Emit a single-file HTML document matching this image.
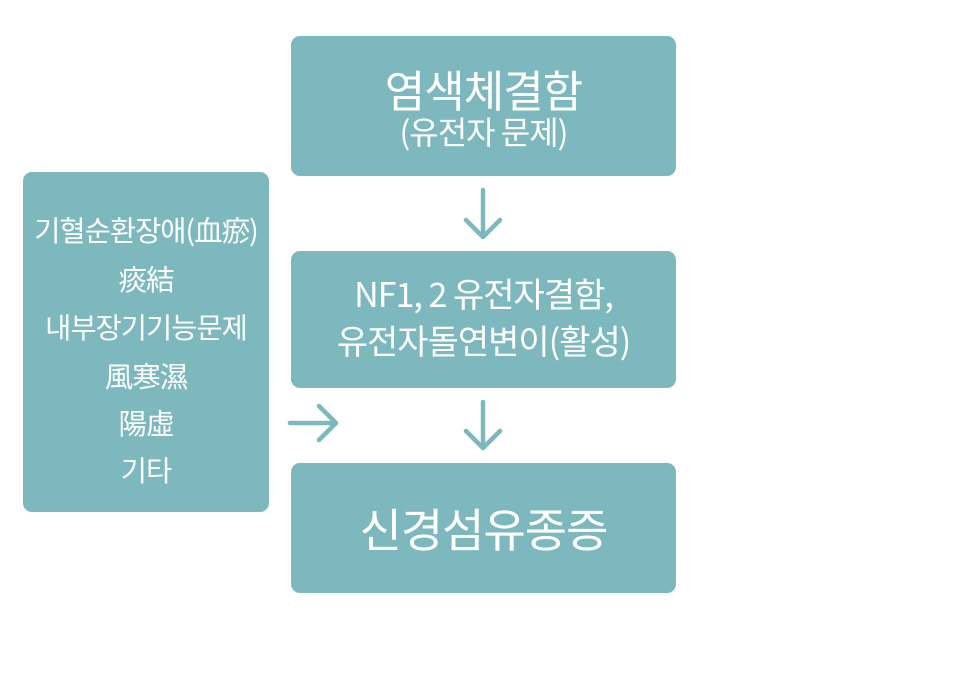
<!DOCTYPE html>
<html><head><meta charset="utf-8"><style>
body{margin:0;width:954px;height:686px;background:#fff;position:relative;font-family:"Liberation Sans","Noto Sans CJK KR",sans-serif;color:#fff;overflow:hidden}
.b{position:absolute;background:#7db8be;border-radius:9px}
.t{position:absolute;left:-20px;right:-20px;text-align:center;white-space:nowrap;font-family:"Noto Sans CJK KR",sans-serif;letter-spacing:-1px;height:50px;line-height:50px}
.l{font-size:28.5px}
</style></head><body>
<div class="b" style="left:291px;top:36px;width:385px;height:140px">
<div class="t" style="top:27px;font-size:44px">염색체결함</div>
<div class="t" style="top:70px;font-size:32px">(유전자 문제)</div>
</div>
<div class="b" style="left:291px;top:251px;width:385px;height:137px">
<div class="t" style="top:17px;font-size:34px">NF1, 2 유전자결함,</div>
<div class="t" style="top:64px;font-size:34px">유전자돌연변이(활성)</div>
</div>
<div class="b" style="left:291px;top:463px;width:385px;height:130px">
<div class="t" style="top:40px;font-size:46px">신경섬유종증</div>
</div>
<div class="b" style="left:23px;top:172px;width:246px;height:340px">
<div class="t l" style="top:33px">기혈순환장애(血瘀)</div>
<div class="t l" style="top:82px">痰結</div>
<div class="t l" style="top:130px">내부장기기능문제</div>
<div class="t l" style="top:179px">風寒濕</div>
<div class="t l" style="top:226px">陽虛</div>
<div class="t l" style="top:273px">기타</div>
</div>
<svg width="954" height="686" style="position:absolute;left:0;top:0" fill="none" stroke="#7db8be" stroke-width="4.5" stroke-linecap="round" stroke-linejoin="round">
<path d="M483 190V236M466 220L483 237L500 220"/>
<path d="M483 402V447M466 431L483 448L500 431"/>
<path d="M290 423H335M319 406L336 423L319 440"/>
</svg>
</body></html>
